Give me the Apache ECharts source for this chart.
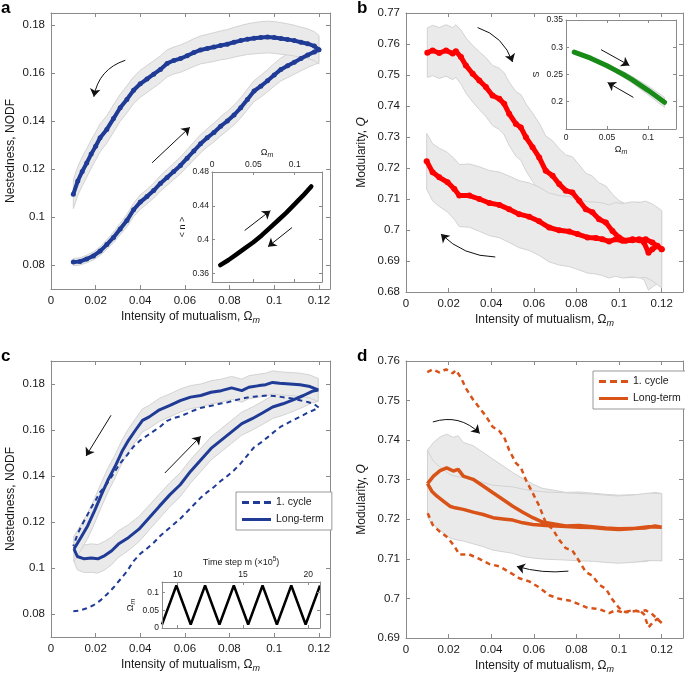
<!DOCTYPE html>
<html>
<head>
<meta charset="utf-8">
<script src="https://cdn.jsdelivr.net/npm/echarts@6/dist/echarts.min.js"></script>
<style>
  html, body { margin: 0; padding: 0; background: #fff; }
  #chart { width: 685px; height: 675px; }
</style>
</head>
<body>
<div id="chart"></div>
<script>
// ---- panel a (and dashed curve of c): nestedness, first cycle ----
var nodfIncX = [0.010,0.013,0.016,0.019,0.022,0.025,0.028,0.031,0.034,0.037,0.040,0.043,0.046,0.049,0.052,0.055,0.058,0.061,0.064,0.067,0.070,0.073,0.076,0.079,0.082,0.085,0.088,0.091,0.094,0.097,0.100,0.103,0.106,0.109,0.112,0.115,0.118,0.120];
var nodfIncY = [0.0812,0.0815,0.0825,0.0838,0.0858,0.0885,0.0915,0.0950,0.0985,0.1030,0.1062,0.1085,0.1110,0.1140,0.1165,0.1190,0.1215,0.1245,0.1275,0.1305,0.1330,0.1352,0.1378,0.1400,0.1425,0.1455,0.1490,0.1525,0.1545,0.1568,0.1592,0.1615,0.1630,0.1645,0.1660,0.1675,0.1688,0.1697];
var nodfIncErr = [0.0015,0.0015,0.0016,0.0017,0.0018,0.0020,0.0022,0.0024,0.0026,0.0028,0.0030,0.0030,0.0031,0.0032,0.0033,0.0034,0.0035,0.0036,0.0037,0.0038,0.0038,0.0039,0.0040,0.0040,0.0041,0.0042,0.0043,0.0044,0.0045,0.0046,0.0047,0.0048,0.0049,0.0050,0.0051,0.0052,0.0053,0.0055];
var nodfDecX = [0.120,0.118,0.115,0.112,0.109,0.106,0.103,0.100,0.097,0.094,0.091,0.088,0.085,0.082,0.079,0.076,0.073,0.070,0.067,0.064,0.061,0.058,0.055,0.052,0.049,0.046,0.043,0.040,0.037,0.034,0.031,0.028,0.025,0.022,0.020,0.018,0.016,0.014,0.012,0.010];
var nodfDecY = [0.1697,0.1712,0.1722,0.1728,0.1735,0.1740,0.1744,0.1748,0.1750,0.1748,0.1745,0.1741,0.1735,0.1728,0.1720,0.1715,0.1708,0.1702,0.1696,0.1685,0.1672,0.1660,0.1652,0.1640,0.1615,0.1595,0.1575,0.1555,0.1528,0.1490,0.1455,0.1410,0.1365,0.1330,0.1295,0.1262,0.1225,0.1190,0.1150,0.1095];
var nodfDecErr = [0.0060,0.0060,0.0062,0.0063,0.0064,0.0065,0.0066,0.0066,0.0066,0.0066,0.0065,0.0064,0.0063,0.0062,0.0061,0.0060,0.0060,0.0059,0.0058,0.0058,0.0057,0.0057,0.0056,0.0056,0.0056,0.0056,0.0056,0.0056,0.0056,0.0056,0.0056,0.0057,0.0057,0.0058,0.0058,0.0059,0.0059,0.0060,0.0060,0.0060];

// inset a: mean degree <n>
var degX = [0.01,0.02,0.03,0.04,0.05,0.06,0.07,0.08,0.09,0.10,0.11,0.12];
var degY = [0.370,0.376,0.383,0.390,0.397,0.405,0.414,0.423,0.432,0.442,0.452,0.463];

// ---- panel b (and dashed curve of d): modularity, first cycle ----
var qFwdX = [0.0100,0.0125,0.0156,0.0188,0.0219,0.0234,0.0258,0.0281,0.0313,0.0344,0.0375,0.0406,0.0438,0.0461,0.0484,0.0516,0.0539,0.0563,0.0594,0.0625,0.0656,0.0688,0.0719,0.0750,0.0781,0.0813,0.0844,0.0875,0.0906,0.0938,0.0969,0.1000,0.1031,0.1063,0.1094,0.1117,0.1138,0.1156,0.1180,0.1200];
var qFwdY = [0.7572,0.7579,0.7571,0.7579,0.7569,0.7577,0.7558,0.7531,0.7504,0.7482,0.7461,0.7434,0.7423,0.7407,0.7375,0.7342,0.7331,0.7299,0.7267,0.7234,0.7191,0.7175,0.7148,0.7127,0.7121,0.7094,0.7067,0.7057,0.7035,0.7024,0.6997,0.6976,0.6965,0.6967,0.6970,0.6960,0.6927,0.6938,0.6949,0.6938];
var qFwdErr = [0.0080,0.0081,0.0082,0.0083,0.0084,0.0085,0.0087,0.0089,0.0091,0.0093,0.0095,0.0097,0.0099,0.0100,0.0102,0.0104,0.0106,0.0108,0.0110,0.0111,0.0112,0.0113,0.0114,0.0115,0.0115,0.0116,0.0116,0.0117,0.0117,0.0118,0.0118,0.0119,0.0119,0.0120,0.0120,0.0121,0.0121,0.0122,0.0122,0.0122];
var qRetX = [0.1200,0.1156,0.1125,0.1094,0.1063,0.1016,0.0984,0.0953,0.0922,0.0891,0.0852,0.0805,0.0766,0.0719,0.0672,0.0625,0.0578,0.0531,0.0484,0.0438,0.0391,0.0344,0.0297,0.0250,0.0227,0.0195,0.0156,0.0125,0.0097];
var qRetY = [0.6938,0.6960,0.6970,0.6967,0.6970,0.6965,0.6970,0.6963,0.6970,0.6974,0.6976,0.6987,0.6995,0.6999,0.7008,0.7028,0.7043,0.7051,0.7067,0.7081,0.7087,0.7100,0.7111,0.7111,0.7132,0.7154,0.7170,0.7186,0.7222];
var qRetErr = [0.0125,0.0124,0.0123,0.0122,0.0121,0.0120,0.0119,0.0118,0.0117,0.0116,0.0115,0.0114,0.0113,0.0112,0.0111,0.0110,0.0109,0.0108,0.0107,0.0106,0.0105,0.0104,0.0102,0.0100,0.0098,0.0096,0.0094,0.0092,0.0090];

// inset b: S
var sX = [0.01,0.02,0.03,0.04,0.05,0.06,0.07,0.08,0.09,0.10,0.11,0.12];
var sY = [0.291,0.2855,0.280,0.273,0.266,0.258,0.250,0.241,0.231,0.221,0.210,0.199];
var sErr = [0.001,0.001,0.001,0.002,0.003,0.004,0.005,0.006,0.007,0.008,0.009,0.009];

// ---- panel c: long-term nestedness ----
var cLowX = [0.0103,0.0118,0.0149,0.0180,0.0210,0.0241,0.0272,0.0302,0.0348,0.0394,0.0440,0.0486,0.0533,0.0579,0.0625,0.0671,0.0717,0.0763,0.0809,0.0855,0.0901,0.0947,0.0993,0.1039,0.1085,0.1131,0.1170,0.1197];
var cLowY = [0.1083,0.1050,0.1040,0.1043,0.1040,0.1054,0.1075,0.1104,0.1133,0.1169,0.1219,0.1269,0.1319,0.1362,0.1420,0.1470,0.1520,0.1556,0.1592,0.1628,0.1649,0.1674,0.1700,0.1714,0.1731,0.1750,0.1768,0.1774];
var cLowErr = [0.0055,0.0058,0.0060,0.0062,0.0062,0.0062,0.0060,0.0058,0.0056,0.0055,0.0054,0.0053,0.0052,0.0052,0.0051,0.0051,0.0050,0.0050,0.0050,0.0050,0.0050,0.0050,0.0050,0.0050,0.0050,0.0050,0.0050,0.0050];
var cUpX = [0.1197,0.1160,0.1116,0.1070,0.1024,0.0993,0.0962,0.0932,0.0886,0.0855,0.0809,0.0763,0.0717,0.0671,0.0625,0.0579,0.0533,0.0486,0.0440,0.0410,0.0379,0.0348,0.0318,0.0287,0.0256,0.0226,0.0195,0.0164,0.0134,0.0103];
var cUpY = [0.1774,0.1789,0.1797,0.1800,0.1803,0.1807,0.1797,0.1793,0.1786,0.1771,0.1783,0.1771,0.1764,0.1750,0.1743,0.1728,0.1707,0.1688,0.1657,0.1642,0.1600,0.1556,0.1506,0.1441,0.1384,0.1319,0.1248,0.1183,0.1133,0.1083];
var cUpErr = [0.0050,0.0050,0.0050,0.0050,0.0050,0.0050,0.0050,0.0050,0.0050,0.0050,0.0050,0.0050,0.0050,0.0050,0.0050,0.0050,0.0050,0.0050,0.0050,0.0050,0.0050,0.0050,0.0050,0.0050,0.0052,0.0053,0.0054,0.0055,0.0055,0.0055];

// inset c: driving protocol
var stepM = [8.8,9.9,11.0,12.1,13.2,14.3,15.4,16.5,17.6,18.7,19.8,20.9];
var stepOmega = [0.01,0.12,0.01,0.12,0.01,0.12,0.01,0.12,0.01,0.12,0.01,0.12];

// ---- panel d: long-term modularity ----
var dUpX = [0.0101,0.0129,0.0160,0.0191,0.0222,0.0245,0.0269,0.0315,0.0362,0.0408,0.0455,0.0501,0.0548,0.0595,0.0641,0.0688,0.0750,0.0812,0.0874,0.0936,0.0998,0.1060,0.1122,0.1169,0.1200];
var dUpY = [0.7290,0.7309,0.7323,0.7330,0.7322,0.7326,0.7309,0.7301,0.7284,0.7267,0.7250,0.7233,0.7218,0.7204,0.7193,0.7189,0.7183,0.7184,0.7181,0.7178,0.7176,0.7177,0.7178,0.7183,0.7180];
var dUpErr = [0.0085,0.0085,0.0085,0.0085,0.0085,0.0085,0.0085,0.0085,0.0085,0.0085,0.0085,0.0085,0.0085,0.0085,0.0085,0.0085,0.0085,0.0085,0.0085,0.0085,0.0085,0.0085,0.0085,0.0085,0.0085];
var dLowX = [0.1200,0.1138,0.1060,0.0998,0.0936,0.0874,0.0812,0.0750,0.0657,0.0595,0.0548,0.0501,0.0455,0.0408,0.0362,0.0315,0.0269,0.0230,0.0206,0.0175,0.0144,0.0121,0.0101];
var dLowY = [0.7180,0.7181,0.7176,0.7174,0.7176,0.7179,0.7180,0.7182,0.7184,0.7187,0.7191,0.7198,0.7201,0.7204,0.7212,0.7218,0.7225,0.7229,0.7233,0.7246,0.7259,0.7271,0.7290];
var dLowErr = [0.0085,0.0085,0.0085,0.0085,0.0085,0.0085,0.0085,0.0085,0.0085,0.0085,0.0085,0.0084,0.0083,0.0082,0.0081,0.0080,0.0080,0.0080,0.0080,0.0080,0.0080,0.0082,0.0085];

// tick values
var ticksOmega = [0,0.02,0.04,0.06,0.08,0.1,0.12];
var ticksNodf = [0.08,0.1,0.12,0.14,0.16,0.18];
var ticksQb = [0.68,0.69,0.7,0.71,0.72,0.73,0.74,0.75,0.76,0.77];
var ticksQd = [0.69,0.7,0.71,0.72,0.73,0.74,0.75,0.76];
var ticksInsetOmega = [0,0.05,0.1];
var ticksDeg = [0.36,0.4,0.44,0.48];
var ticksS = [0.2,0.25,0.3,0.35];
var ticksStep = [10,15,20];
var ticksStepOmega = [0,0.05,0.1];

// annotation arrows: [start, end, curveness] in data coordinates
var arrowsA = [[[0.0333,0.1653],[0.0192,0.1501],-0.3],[[0.0453,0.1226],[0.0622,0.1374],0]];
var arrowsAIn = [[[0.0395,0.4109],[0.0706,0.4343],0],[[0.0968,0.4144],[0.0677,0.3918],0]];
var arrowsB = [[[0.0336,0.7653],[0.0500,0.7542],0.25],[[0.0419,0.6913],[0.0164,0.6987],0.2]];
var arrowsBIn = [[[0.0427,0.2956],[0.0772,0.2667],0],[[0.0821,0.2080],[0.0507,0.2352],0]];
var arrowsC = [[[0.0269,0.1664],[0.0157,0.1487],0],[[0.0510,0.1413],[0.0671,0.1573],0]];
var arrowsD = [[[0.0126,0.7446],[0.0346,0.7417],0.3],[[0.0762,0.7069],[0.0520,0.7081],0.1]];

var FONT = 'Liberation Sans';
var AXIS = '#8a8a8a';
var TXT = '#1a1a1a';
var BLUE = '#1f3b96';
var RED = '#ff0000';
var GREEN = '#178a17';
var ORANGE = '#d95319';

function pts(xs, ys) { return xs.map(function (x, i) { return [x, ys[i]]; }); }
function fmt(v) { return String(parseFloat(Number(v).toFixed(4))); }

var subRich = {
    s: { fontSize: 9, fontStyle: 'italic', fontFamily: FONT, color: TXT, padding: [7, 0, 0, 0] },
    i: { fontSize: 12, fontStyle: 'italic', fontFamily: FONT, color: TXT },
    ss: { fontSize: 7, fontStyle: 'italic', fontFamily: FONT, color: TXT, padding: [5, 0, 0, 0] },
    p: { fontSize: 6.5, fontFamily: FONT, color: TXT, padding: [0, 0, 6, 0] }
};

// one labelled axis + one mirror axis per side (MATLAB style box with ticks)
function axis(g, pos, range, ticks, labeled, o) {
    var vertical = (pos === 'left' || pos === 'right');
    return {
        type: 'value', gridIndex: g, position: pos, min: range[0], max: range[1], z: o.z || 0,
        axisLine: { show: true, onZero: false, lineStyle: { color: AXIS, width: 1 } },
        axisTick: { show: true, inside: true, length: o.tick || 4, customValues: ticks, lineStyle: { color: AXIS } },
        axisLabel: { show: labeled, customValues: ticks, formatter: fmt, fontSize: o.fs, color: TXT, fontFamily: FONT, margin: o.margin || 5 },
        splitLine: { show: false },
        name: labeled ? (o.name || '') : '',
        nameLocation: 'middle', nameGap: o.gap || 20, nameRotate: vertical ? 90 : 0,
        nameTextStyle: { fontSize: o.nfs || 12, color: TXT, fontFamily: FONT, rich: subRich }
    };
}

var xAxes = [], yAxes = [];
function addPanel(g, xr, xt, xPos, xo, yr, yt, yo) {
    var xOther = xPos === 'bottom' ? 'top' : 'bottom';
    xAxes.push(axis(g, xPos, xr, xt, true, xo));
    xAxes.push(axis(g, xOther, xr, xt, false, xo));
    yAxes.push(axis(g, 'left', yr, yt, true, yo));
    yAxes.push(axis(g, 'right', yr, yt, false, yo));
}

var xName = 'Intensity of mutualism, Ω{s|m}';
var mainX = { fs: 11.5, name: xName, gap: 20, margin: 6 };
addPanel(0, [0, 0.125], ticksOmega, 'bottom', mainX, [0.07, 0.185], ticksNodf, { fs: 11.5, name: 'Nestedness, NODF', gap: 34, margin: 6 });
addPanel(1, [0, 0.133], ticksInsetOmega, 'top', { fs: 8.5, nfs: 9, name: 'Ω{ss|m}', gap: 13, margin: 3, tick: 3, z: 10 }, [0.35, 0.48], ticksDeg, { fs: 8.5, nfs: 9, name: '< n >', gap: 25, margin: 3, tick: 3, z: 10 });
addPanel(2, [0, 0.13], ticksOmega, 'bottom', mainX, [0.68, 0.77], ticksQb, { fs: 11.5, name: 'Modularity, {i|Q}', gap: 38, margin: 6 });
addPanel(3, [0, 0.134], ticksInsetOmega, 'bottom', { fs: 8.5, nfs: 9, name: 'Ω{ss|m}', gap: 15, margin: 4, tick: 3, z: 10 }, [0.15, 0.35], ticksS, { fs: 8.5, nfs: 9, name: 'S', gap: 25, margin: 3, tick: 3, z: 10 });
addPanel(4, [0, 0.125], ticksOmega, 'bottom', mainX, [0.07, 0.19], ticksNodf, { fs: 11.5, name: 'Nestedness, NODF', gap: 34, margin: 6 });
addPanel(5, [8.8, 20.9], ticksStep, 'top', { fs: 8.5, nfs: 9, name: 'Time step m (×10{p|5})', gap: 13, margin: 3, tick: 3, z: 10 }, [0, 0.13], ticksStepOmega, { fs: 8.5, nfs: 9, name: 'Ω{ss|m}', gap: 25, margin: 3, tick: 3, z: 10 });
addPanel(6, [0, 0.13], ticksOmega, 'bottom', mainX, [0.69, 0.76], ticksQd, { fs: 11.5, name: 'Modularity, {i|Q}', gap: 38, margin: 6 });

// grey error band drawn from y +/- err through the axes
function band(g, xs, ys, es, z) {
    return {
        type: 'custom', xAxisIndex: 2 * g, yAxisIndex: 2 * g, z: z || 1, silent: true, clip: true,
        data: [[xs[0], ys[0]]],
        renderItem: function (params, api) {
            var top = [], bot = [];
            for (var i = 0; i < xs.length; i++) {
                top.push(api.coord([xs[i], ys[i] + es[i]]));
                bot.push(api.coord([xs[i], ys[i] - es[i]]));
            }
            return { type: 'polygon', shape: { points: top.concat(bot.reverse()) },
                style: { fill: '#eaeaea', stroke: '#d3d3d3', lineWidth: 1 } };
        }
    };
}

// white background of an inset, drawn above the main panel
function insetBg(g) {
    return {
        type: 'custom', xAxisIndex: 2 * g, yAxisIndex: 2 * g, z: 5, silent: true,
        data: [[0, 0]],
        renderItem: function (params) {
            var cs = params.coordSys;
            return { type: 'rect', shape: { x: cs.x, y: cs.y, width: cs.width, height: cs.height }, style: { fill: '#fff' } };
        }
    };
}

// thin black arrows
function arrows(g, list, z) {
    return {
        type: 'lines', coordinateSystem: 'cartesian2d', xAxisIndex: 2 * g, yAxisIndex: 2 * g, z: z || 4, silent: true,
        symbol: ['none', 'arrow'], symbolSize: 8,
        lineStyle: { color: '#111', width: 1, opacity: 1 },
        data: list.map(function (a) {
            return { coords: [a[0], a[1]], lineStyle: { curveness: a[2] } };
        })
    };
}

var nodfLoop = pts(nodfIncX, nodfIncY).concat(pts(nodfDecX, nodfDecY));
var qLoop = pts(qFwdX, qFwdY).concat(pts(qRetX, qRetY));

var series = [
    // a
    band(0, nodfIncX, nodfIncY, nodfIncErr),
    band(0, nodfDecX, nodfDecY, nodfDecErr),
    { type: 'line', xAxisIndex: 0, yAxisIndex: 0, z: 3, data: nodfLoop, symbol: 'circle', symbolSize: 5, showAllSymbol: true,
      itemStyle: { color: BLUE }, lineStyle: { color: BLUE, width: 4 } },
    arrows(0, arrowsA),
    // a inset
    insetBg(1),
    { type: 'line', xAxisIndex: 2, yAxisIndex: 2, z: 7, data: pts(degX, degY), symbol: 'none',
      lineStyle: { color: '#000', width: 4.5, cap: 'round' } },
    arrows(1, arrowsAIn, 8),
    // b
    band(2, qFwdX, qFwdY, qFwdErr),
    band(2, qRetX, qRetY, qRetErr),
    { type: 'line', xAxisIndex: 4, yAxisIndex: 4, z: 3, data: qLoop, symbol: 'circle', symbolSize: 6, showAllSymbol: true,
      itemStyle: { color: RED }, lineStyle: { color: RED, width: 5 } },
    arrows(2, arrowsB),
    // b inset
    insetBg(3),
    band(3, sX, sY, sErr, 6),
    { type: 'line', xAxisIndex: 6, yAxisIndex: 6, z: 7, data: pts(sX, sY), symbol: 'none',
      lineStyle: { color: GREEN, width: 5, cap: 'round' } },
    arrows(3, arrowsBIn, 8),
    // c
    band(4, cLowX, cLowY, cLowErr),
    band(4, cUpX, cUpY, cUpErr),
    { type: 'line', name: '1. cycle', xAxisIndex: 8, yAxisIndex: 8, z: 3, data: nodfLoop, symbol: 'none',
      itemStyle: { color: BLUE }, lineStyle: { color: BLUE, width: 2, type: [5, 4] } },
    { type: 'line', name: 'Long-term', xAxisIndex: 8, yAxisIndex: 8, z: 4, data: pts(cLowX, cLowY).concat(pts(cUpX, cUpY)), symbol: 'none',
      itemStyle: { color: BLUE }, lineStyle: { color: BLUE, width: 3 } },
    arrows(4, arrowsC),
    // c inset
    insetBg(5),
    { type: 'line', xAxisIndex: 10, yAxisIndex: 10, z: 7, data: pts(stepM, stepOmega), symbol: 'none',
      lineStyle: { color: '#000', width: 2.5 } },
    // d
    band(6, dUpX, dUpY, dUpErr),
    band(6, dLowX, dLowY, dLowErr),
    { type: 'line', name: '1. cycle ', xAxisIndex: 12, yAxisIndex: 12, z: 3, data: qLoop, symbol: 'none',
      itemStyle: { color: ORANGE }, lineStyle: { color: ORANGE, width: 2.5, type: [5, 4] } },
    { type: 'line', name: 'Long-term ', xAxisIndex: 12, yAxisIndex: 12, z: 4, data: pts(dUpX, dUpY).concat(pts(dLowX, dLowY)), symbol: 'none',
      itemStyle: { color: ORANGE }, lineStyle: { color: ORANGE, width: 3.5 } },
    arrows(6, arrowsD)
];

var ICON_DASH = 'path://M0,0h7v3h-7zM11,0h7v3h-7zM22,0h7v3h-7z';
var ICON_SOLID = 'path://M0,0h29v3h-29z';

function legendAt(left, top, names) {
    return {
        data: [{ name: names[0], icon: ICON_DASH }, { name: names[1], icon: ICON_SOLID }],
        left: left, top: top, orient: 'vertical', selectedMode: false,
        backgroundColor: '#fff', borderColor: '#999', borderWidth: 1, padding: [5, 8, 5, 6],
        itemGap: 6, itemWidth: 29, itemHeight: 3,
        textStyle: { fontSize: 10.5, color: TXT, fontFamily: FONT }
    };
}

function letter(t, x, y) {
    return { type: 'text', left: x, top: y, style: { text: t, font: 'bold 17px "Liberation Sans"', fill: '#000' } };
}

var chart = echarts.init(document.getElementById('chart'));
chart.setOption({
    animation: false,
    backgroundColor: '#fff',
    textStyle: { fontFamily: FONT },
    grid: [
        { left: 51, top: 13, width: 279, height: 276 },
        { left: 212, top: 172, width: 110, height: 110 },
        { left: 406, top: 13, width: 277, height: 279 },
        { left: 566, top: 20, width: 110, height: 109 },
        { left: 51, top: 361, width: 279, height: 276 },
        { left: 162, top: 582, width: 158, height: 46 },
        { left: 406, top: 361, width: 277, height: 277 }
    ],
    xAxis: xAxes,
    yAxis: yAxes,
    legend: [
        legendAt(236, 492, ['1. cycle', 'Long-term']),
        legendAt(593, 371, ['1. cycle ', 'Long-term '])
    ],
    graphic: [letter('a', 1, 0), letter('b', 357, 0), letter('c', 1, 348), letter('d', 357, 348)],
    series: series
});
</script>
</body>
</html>
